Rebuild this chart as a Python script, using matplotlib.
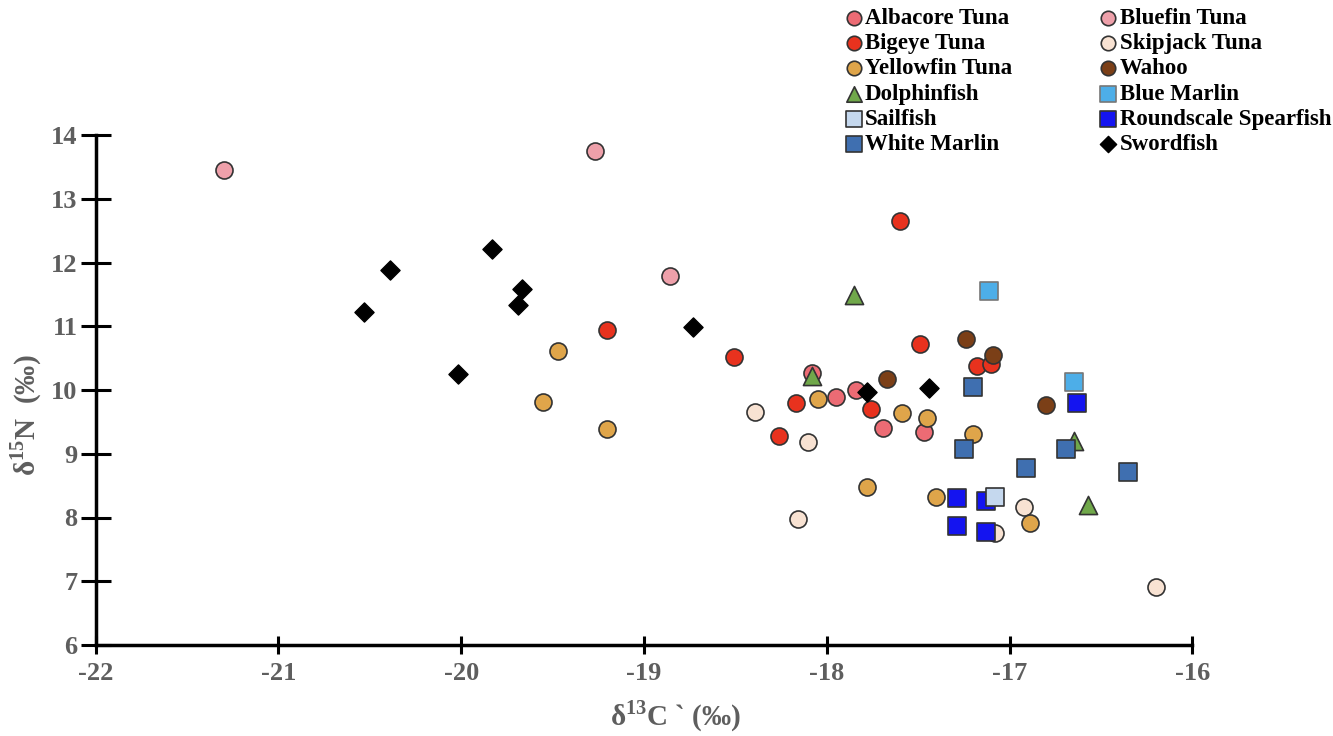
import matplotlib
matplotlib.use("Agg")
import matplotlib.pyplot as plt

plt.rcParams['font.family'] = ['Liberation Serif', 'DejaVu Serif']
plt.rcParams['font.weight'] = 'bold'
plt.rcParams['axes.unicode_minus'] = False
plt.rcParams['mathtext.fontset'] = 'custom'
plt.rcParams['mathtext.rm'] = 'Liberation Serif:bold'
plt.rcParams['mathtext.bf'] = 'Liberation Serif:bold'

# species data: d13C (x), d15N (y)
albacore_x = [-18.08, -17.84, -17.95, -17.69, -17.47]
albacore_y = [10.27, 10.00, 9.89, 9.40, 9.34]
bigeye_x = [-19.20, -18.51, -17.60, -17.49, -17.18, -17.10, -18.17, -17.76, -18.26]
bigeye_y = [10.94, 10.52, 12.65, 10.72, 10.38, 10.41, 9.80, 9.70, 9.28]
bluefin_x = [-21.30, -19.27, -18.86]
bluefin_y = [13.45, 13.75, 11.79]
skipjack_x = [-18.39, -18.10, -18.16, -16.92, -17.08, -16.20]
skipjack_y = [9.65, 9.18, 7.98, 8.16, 7.76, 6.91]
yellowfin_x = [-19.47, -19.55, -19.20, -18.05, -17.59, -17.45, -17.20, -17.78, -17.40, -16.89]
yellowfin_y = [10.61, 9.81, 9.39, 9.86, 9.64, 9.56, 9.31, 8.48, 8.32, 7.91]
wahoo_x = [-17.24, -17.09, -17.67, -16.80]
wahoo_y = [10.80, 10.55, 10.17, 9.76]
dolphin_x = [-17.85, -18.08, -16.65, -16.57]
dolphin_y = [11.49, 10.22, 9.20, 8.20]
roundscale_x = [-16.63, -17.29, -17.13, -17.29, -17.13]
roundscale_y = [9.80, 8.31, 8.26, 7.87, 7.77]
sailfish_x = [-17.08]
sailfish_y = [8.32]
whitemarlin_x = [-17.20, -17.25, -16.69, -16.91, -16.35]
whitemarlin_y = [10.05, 9.07, 9.07, 8.78, 8.71]
bluemarlin_x = [-17.11, -16.65]
bluemarlin_y = [11.55, 10.13]
swordfish_x = [-20.53, -20.39, -19.83, -19.67, -19.69, -20.02, -18.73, -17.78, -17.44]
swordfish_y = [11.22, 11.88, 12.21, 11.58, 11.33, 10.25, 10.99, 9.97, 10.03]

W, H = 1333, 736
fig = plt.figure(figsize=(W/100, H/100), dpi=100)
ax = fig.add_axes([95.7/W, 1-645/H, (1192.3-95.7)/W, (645-135)/H])

ec = '#333333'
h = {}
h['Albacore Tuna'] = ax.scatter(albacore_x, albacore_y, s=150, marker='o', c='#EC6B74', edgecolors=ec, linewidths=1.2)
h['Bigeye Tuna'] = ax.scatter(bigeye_x, bigeye_y, s=150, marker='o', c='#E8321E', edgecolors=ec, linewidths=1.2)
h['Bluefin Tuna'] = ax.scatter(bluefin_x, bluefin_y, s=150, marker='o', c='#EEA0AA', edgecolors=ec, linewidths=1.2)
h['Skipjack Tuna'] = ax.scatter(skipjack_x, skipjack_y, s=150, marker='o', c='#F8E2D2', edgecolors=ec, linewidths=1.2)
h['Yellowfin Tuna'] = ax.scatter(yellowfin_x, yellowfin_y, s=150, marker='o', c='#DFA54A', edgecolors=ec, linewidths=1.2)
h['Wahoo'] = ax.scatter(wahoo_x, wahoo_y, s=150, marker='o', c='#7B3F17', edgecolors=ec, linewidths=1.2)
h['Dolphinfish'] = ax.scatter(dolphin_x, dolphin_y, s=170, marker='^', c='#70A84A', edgecolors=ec, linewidths=1.2)
h['Roundscale Spearfish'] = ax.scatter(roundscale_x, roundscale_y, s=180, marker='s', c='#1414F0', edgecolors=ec, linewidths=1.2)
h['Sailfish'] = ax.scatter(sailfish_x, sailfish_y, s=180, marker='s', c='#C5D8EE', edgecolors=ec, linewidths=1.2)
h['White Marlin'] = ax.scatter(whitemarlin_x, whitemarlin_y, s=180, marker='s', c='#3F6FB0', edgecolors=ec, linewidths=1.2)
h['Blue Marlin'] = ax.scatter(bluemarlin_x, bluemarlin_y, s=180, marker='s', c='#4DAEE8', edgecolors='#777777', linewidths=1.2)
h['Swordfish'] = ax.scatter(swordfish_x, swordfish_y, s=95, marker='D', c='black', edgecolors='black', linewidths=1)

ax.set_xlim(-22, -16)
ax.set_ylim(6, 14)
ax.set_xticks(range(-22, -15))
ax.set_yticks(range(6, 15))
for s in ['top', 'right']:
    ax.spines[s].set_visible(False)
for s in ['left', 'bottom']:
    ax.spines[s].set_linewidth(2.5)
ax.tick_params(direction='inout', width=2.2, labelsize=19, labelcolor='#5E5E5E')
ax.tick_params(axis='x', length=13, pad=6)
ax.tick_params(axis='y', length=22, pad=2)
for lab in ax.get_xticklabels() + ax.get_yticklabels():
    lab.set_fontweight('bold')
ax.set_xlabel(r'δ$^{13}$C ` (‰)', fontsize=21, color='#5E5E5E', fontweight='bold')
ax.set_ylabel(r'δ$^{15}$N  (‰)', fontsize=21, color='#5E5E5E', fontweight='bold')
ax.xaxis.set_label_coords(0.529, -0.105)
ax.yaxis.set_label_coords(-0.047, 0.45)

order = ['Albacore Tuna', 'Bigeye Tuna', 'Yellowfin Tuna', 'Dolphinfish', 'Sailfish', 'White Marlin',
         'Bluefin Tuna', 'Skipjack Tuna', 'Wahoo', 'Blue Marlin', 'Roundscale Spearfish', 'Swordfish']
fig.legend([h[k] for k in order], order, ncol=2, loc='upper left',
           bbox_to_anchor=(826/W, 1+8/H), frameon=False,
           prop={'family': 'Liberation Serif', 'weight': 'bold', 'size': 16.5},
           labelspacing=0.18, handletextpad=0.0, columnspacing=3.7,
           handlelength=1.0, markerscale=0.85, borderpad=0.2)

fig.savefig('out.png', dpi=100)
